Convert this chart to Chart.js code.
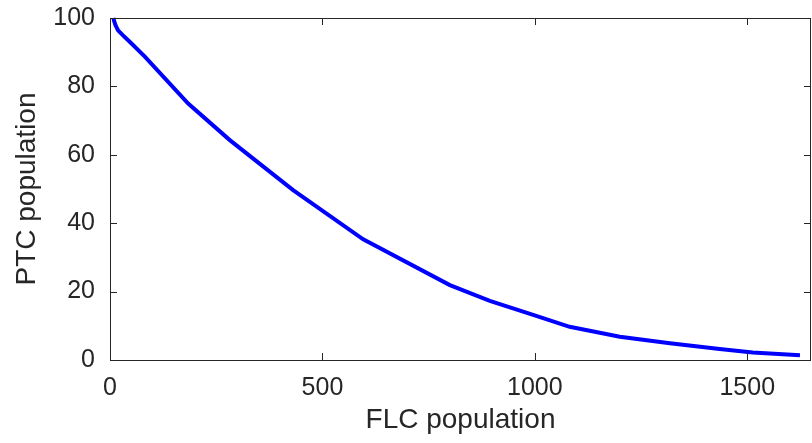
<!DOCTYPE html>
<html>
<head>
<meta charset="utf-8">
<script src="https://cdn.jsdelivr.net/npm/chart.js@4.4.1/dist/chart.umd.min.js"></script>
<style>
    html, body { margin: 0; padding: 0; background: #ffffff; }
    #wrap { width: 812px; height: 443px; position: relative; }
</style>
</head>
<body>
<div id="wrap"><canvas id="popChart"></canvas></div>
<script>
// FLC vs PTC population
const flcValues = [8, 10, 13, 19, 30, 50, 82, 184, 282, 431, 596, 800, 894, 996, 1082, 1200, 1318, 1435, 1513, 1624];
const ptcValues = [100, 99, 97.9, 96.4, 95, 92.6, 88.7, 75, 64.3, 49.7, 35.3, 21.9, 17.3, 13.2, 9.7, 6.8, 4.9, 3.2, 2.2, 1.4];
const xTicks = [0, 500, 1000, 1500];
const yTicks = [0, 20, 40, 60, 80, 100];

const axisColor = "#262626";
const fontFamily = "\"Liberation Sans\", Arial, Helvetica, sans-serif";

// MATLAB-like box with inward ticks on all four sides
const boxTicks = {
    id: "boxTicks",
    afterDraw(chart) {
        const { ctx, chartArea: a, scales } = chart;
        const len = 7;
        ctx.save();
        ctx.strokeStyle = axisColor;
        ctx.lineWidth = 1;
        ctx.beginPath();
        xTicks.forEach(v => {
            const px = Math.round(scales.x.getPixelForValue(v)) + 0.5;
            ctx.moveTo(px, a.bottom);
            ctx.lineTo(px, a.bottom - len);
            ctx.moveTo(px, a.top);
            ctx.lineTo(px, a.top + len);
        });
        yTicks.forEach(v => {
            const py = Math.round(scales.y.getPixelForValue(v)) + 0.5;
            ctx.moveTo(a.left, py);
            ctx.lineTo(a.left + len, py);
            ctx.moveTo(a.right, py);
            ctx.lineTo(a.right - len, py);
        });
        ctx.stroke();
        ctx.strokeRect(Math.round(a.left) + 0.5, Math.round(a.top) + 0.5,
            Math.round(a.right - a.left) - 1, Math.round(a.bottom - a.top));
        ctx.restore();
    }
};

const points = flcValues.map((x, i) => ({ x: x, y: ptcValues[i] }));

new Chart(document.getElementById("popChart"), {
    type: "scatter",
    data: {
        datasets: [
            {
                data: points,
                showLine: true,
                borderColor: "#0000ff",
                borderWidth: 4,
                pointRadius: 0,
                tension: 0,
                clip: 4
            }
        ]
    },
    options: {
        responsive: true,
        maintainAspectRatio: false,
        animation: false,
        events: [],
        layout: { padding: { top: 18, right: 1, left: 0, bottom: 0 } },
        plugins: {
            legend: { display: false },
            tooltip: { enabled: false }
        },
        scales: {
            x: {
                type: "linear",
                min: 0,
                max: 1650,
                afterBuildTicks: scale => { scale.ticks = xTicks.map(v => ({ value: v })); },
                afterFit: scale => {
                    scale.height = 83;
                    scale.paddingLeft = 0;
                    scale.paddingRight = 0;
                },
                grid: { display: false, drawTicks: false },
                border: { display: false },
                ticks: {
                    color: axisColor,
                    padding: 13,
                    maxRotation: 0,
                    callback: value => String(value),
                    font: { family: fontFamily, size: 25 }
                },
                title: {
                    display: true,
                    text: "FLC population",
                    color: axisColor,
                    padding: { top: 0, bottom: 6 },
                    font: { family: fontFamily, size: 28 }
                }
            },
            y: {
                type: "linear",
                min: 0,
                max: 100,
                afterBuildTicks: scale => { scale.ticks = yTicks.map(v => ({ value: v })); },
                afterFit: scale => {
                    scale.width = 110;
                    scale.paddingTop = 0;
                    scale.paddingBottom = 0;
                },
                grid: { display: false, drawTicks: false },
                border: { display: false },
                ticks: {
                    color: axisColor,
                    padding: 15,
                    callback: value => String(value),
                    font: { family: fontFamily, size: 25 }
                },
                title: {
                    display: true,
                    text: "PTC population",
                    color: axisColor,
                    padding: { top: 10, bottom: 0 },
                    font: { family: fontFamily, size: 28 }
                }
            }
        }
    },
    plugins: [boxTicks]
});
</script>
</body>
</html>
